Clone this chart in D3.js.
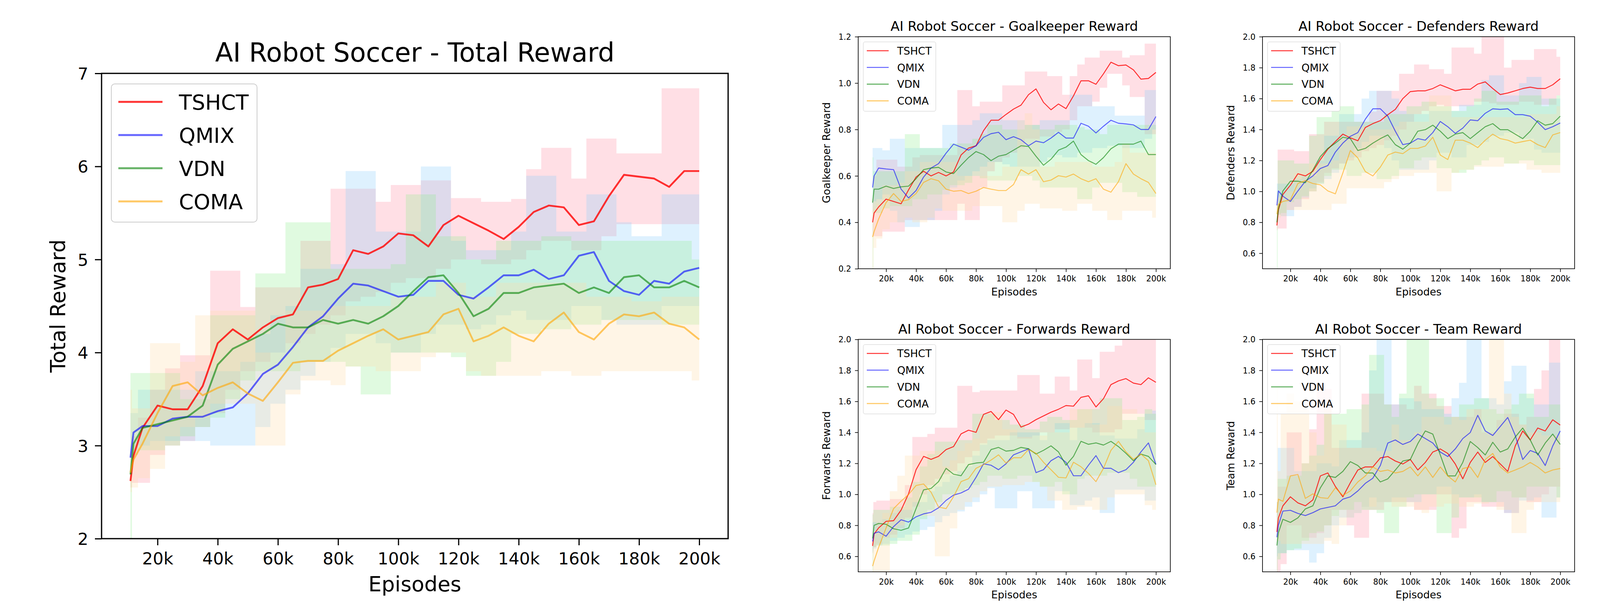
<!DOCTYPE html>
<html>
<head>
<meta charset="utf-8">
<script src="https://cdn.jsdelivr.net/npm/d3@7"></script>
<style>
  body { margin: 0; background: #fff; }
  text { font-family: "DejaVu Sans", sans-serif; fill: #000; }
</style>
</head>
<body>
<svg id="chart" width="4134" height="1550"></svg>
<script>
// episodes, in thousands
var episodes = [11, 12, 15, 20, 25, 30, 35, 40, 45, 50,
                55, 60, 65, 70, 75, 80, 85, 90, 95, 100,
                105, 110, 115, 120, 125, 130, 135, 140, 145, 150,
                155, 160, 165, 170, 175, 180, 185, 190, 195, 200];
var methods = ['TSHCT', 'QMIX', 'VDN', 'COMA'];
var xTicks = [20, 40, 60, 80, 100, 120, 140, 160, 180, 200];
var totalTicks = [2, 3, 4, 5, 6, 7];
var goalTicks = [0.2, 0.4, 0.6, 0.8, 1.0, 1.2];
var rewardTicks = [0.6, 0.8, 1.0, 1.2, 1.4, 1.6, 1.8, 2.0];

// ---- Total reward
var total_tshct = [2.62, 2.89, 3.19, 3.43, 3.39, 3.39, 3.64, 4.10, 4.25, 4.14,
  4.27, 4.37, 4.41, 4.70, 4.73, 4.79, 5.10, 5.06, 5.14, 5.28,
  5.26, 5.14, 5.37, 5.47, 5.39, 5.31, 5.22, 5.35, 5.51, 5.58,
  5.56, 5.37, 5.41, 5.68, 5.91, 5.89, 5.87, 5.78, 5.95, 5.95];
var total_tshct_hi = [2.8, 3.1, 3.3, 3.6, 3.83, 3.97, 3.97, 4.88, 4.88, 4.49,
  4.70, 4.70, 4.70, 5.20, 5.20, 5.76, 5.76, 5.76, 5.62, 5.80,
  5.80, 5.85, 5.85, 5.66, 5.66, 5.62, 5.62, 5.65, 5.97, 6.20,
  6.20, 5.87, 6.30, 6.30, 6.14, 6.14, 6.14, 6.84, 6.84, 6.84];
var total_tshct_lo = [2.55, 2.6, 2.6, 2.9, 3.0, 3.05, 3.2, 3.35, 3.6, 3.8,
  3.9, 4.0, 4.1, 4.2, 4.3, 4.4, 4.55, 4.6, 4.65, 4.75,
  4.8, 4.8, 4.9, 5.0, 5.0, 4.95, 4.95, 5.0, 5.1, 5.2,
  5.2, 5.1, 5.1, 5.25, 5.38, 5.38, 5.38, 5.38, 5.38, 5.38];
var total_qmix = [2.87, 3.14, 3.21, 3.21, 3.29, 3.31, 3.31, 3.37, 3.41, 3.56,
  3.77, 3.87, 4.06, 4.27, 4.39, 4.58, 4.74, 4.72, 4.66, 4.60,
  4.62, 4.77, 4.77, 4.62, 4.58, 4.70, 4.83, 4.83, 4.89, 4.79,
  4.83, 5.04, 5.08, 4.77, 4.66, 4.62, 4.77, 4.74, 4.87, 4.91];
var total_qmix_hi = [3.35, 3.35, 3.6, 3.6, 3.6, 3.6, 3.8, 3.8, 3.8, 3.9,
  4.2, 4.4, 4.5, 4.9, 4.9, 4.95, 5.95, 5.95, 5.3, 5.3,
  5.3, 6.0, 6.0, 5.2, 5.1, 5.1, 5.1, 5.3, 5.9, 5.9,
  5.3, 5.3, 5.7, 5.7, 5.4, 5.25, 5.25, 5.7, 5.7, 5.7];
var total_qmix_lo = [2.8, 2.95, 3.0, 3.05, 3.05, 3.05, 3.05, 3.0, 3.0, 3.0,
  3.2, 3.45, 3.6, 3.75, 3.9, 4.05, 4.2, 4.2, 4.1, 4.0,
  4.0, 4.2, 4.3, 4.3, 4.25, 4.3, 4.4, 4.45, 4.35, 4.35,
  4.35, 4.5, 4.5, 4.35, 4.3, 4.3, 4.3, 4.5, 4.5, 4.5];
var total_vdn = [2.69, 3.02, 3.19, 3.23, 3.27, 3.31, 3.43, 3.87, 4.04, 4.12,
  4.20, 4.31, 4.27, 4.27, 4.35, 4.31, 4.35, 4.31, 4.39, 4.50,
  4.66, 4.81, 4.83, 4.64, 4.39, 4.47, 4.64, 4.64, 4.70, 4.72,
  4.74, 4.64, 4.70, 4.64, 4.81, 4.83, 4.70, 4.70, 4.77, 4.70];
var total_vdn_hi = [3.78, 3.78, 3.78, 3.78, 3.78, 3.5, 3.5, 4.4, 4.4, 4.4,
  4.85, 4.85, 5.4, 5.4, 5.4, 4.9, 4.9, 4.9, 4.9, 4.95,
  5.7, 5.7, 5.25, 5.25, 5.0, 5.0, 5.2, 5.2, 5.2, 5.25,
  5.25, 5.2, 5.2, 5.2, 5.2, 5.2, 5.2, 5.2, 5.2, 5.0];
var total_vdn_lo = [2.0, 2.9, 2.95, 2.95, 3.0, 3.1, 3.2, 3.3, 3.5, 3.7,
  3.8, 3.8, 3.8, 3.9, 3.9, 3.9, 3.85, 3.55, 3.55, 4.0,
  4.0, 4.0, 4.0, 3.95, 3.75, 3.75, 3.9, 4.2, 4.2, 4.25,
  4.25, 4.3, 4.3, 4.35, 4.35, 4.35, 4.35, 4.3, 4.3, 4.3];
var total_coma = [2.71, 2.85, 3.02, 3.35, 3.64, 3.68, 3.54, 3.62, 3.68, 3.56,
  3.48, 3.68, 3.89, 3.91, 3.91, 4.02, 4.10, 4.18, 4.25, 4.14,
  4.18, 4.22, 4.41, 4.47, 4.12, 4.18, 4.27, 4.18, 4.12, 4.31,
  4.43, 4.22, 4.14, 4.31, 4.41, 4.39, 4.43, 4.31, 4.27, 4.14];
var total_coma_hi = [3.6, 3.4, 3.4, 4.1, 4.1, 3.9, 4.4, 4.45, 4.45, 4.45,
  4.0, 4.0, 4.45, 4.45, 4.45, 4.5, 4.5, 4.5, 4.5, 4.6,
  4.6, 4.6, 4.75, 4.75, 4.6, 4.6, 4.75, 4.75, 4.75, 4.75,
  4.75, 4.75, 4.6, 4.6, 4.6, 4.55, 4.55, 4.6, 4.6, 4.6];
var total_coma_lo = [2.5, 2.55, 2.65, 2.75, 3.1, 3.2, 3.3, 3.45, 3.45, 3.45,
  3.0, 3.0, 3.55, 3.7, 3.7, 3.65, 3.85, 3.85, 3.8, 3.8,
  3.8, 3.95, 4.0, 4.0, 3.8, 3.75, 3.75, 3.75, 3.75, 3.8,
  3.8, 3.75, 3.75, 3.8, 3.8, 3.8, 3.8, 3.8, 3.8, 3.7];

// ---- Goalkeeper reward
var goal_tshct = [0.40, 0.44, 0.466, 0.50, 0.49, 0.48, 0.54, 0.595, 0.62, 0.60,
  0.615, 0.60, 0.617, 0.69, 0.72, 0.73, 0.795, 0.84, 0.84, 0.865,
  0.888, 0.905, 0.95, 0.975, 0.917, 0.885, 0.91, 0.89, 0.945, 1.01,
  1.01, 0.995, 1.04, 1.09, 1.075, 1.078, 1.057, 1.017, 1.02, 1.046];
var goal_tshct_hi = [0.50, 0.60, 0.67, 0.67, 0.67, 0.64, 0.64, 0.68, 0.69, 0.69,
  0.69, 0.69, 0.69, 0.97, 0.97, 0.90, 0.92, 0.92, 0.92, 0.99,
  0.99, 0.99, 1.05, 1.05, 1.05, 1.03, 1.03, 0.95, 1.03, 1.08,
  1.11, 1.11, 1.14, 1.14, 1.14, 1.11, 1.12, 1.12, 1.17, 1.17];
var goal_tshct_lo = [0.34, 0.34, 0.34, 0.36, 0.36, 0.36, 0.41, 0.41, 0.41, 0.41,
  0.41, 0.41, 0.41, 0.48, 0.41, 0.41, 0.55, 0.62, 0.66, 0.68,
  0.70, 0.72, 0.76, 0.76, 0.77, 0.77, 0.79, 0.80, 0.84, 0.90,
  0.90, 0.92, 0.98, 1.04, 1.04, 0.99, 0.94, 0.94, 0.78, 0.78];
var goal_qmix = [0.55, 0.60, 0.634, 0.63, 0.627, 0.543, 0.505, 0.537, 0.595, 0.634,
  0.653, 0.698, 0.737, 0.724, 0.711, 0.73, 0.766, 0.782, 0.788, 0.756,
  0.769, 0.756, 0.73, 0.75, 0.743, 0.763, 0.788, 0.763, 0.763, 0.827,
  0.814, 0.785, 0.814, 0.84, 0.827, 0.824, 0.82, 0.80, 0.80, 0.856];
var goal_qmix_hi = [0.72, 0.72, 0.72, 0.71, 0.76, 0.76, 0.72, 0.72, 0.72, 0.72,
  0.72, 0.82, 0.82, 0.82, 0.82, 0.84, 0.87, 0.87, 0.87, 0.84,
  0.84, 0.84, 0.82, 0.82, 0.84, 0.84, 0.84, 0.84, 0.95, 0.95,
  0.95, 0.90, 0.90, 0.90, 0.86, 0.86, 0.86, 0.86, 0.97, 0.97];
var goal_qmix_lo = [0.48, 0.49, 0.50, 0.52, 0.45, 0.40, 0.38, 0.38, 0.41, 0.41,
  0.45, 0.52, 0.55, 0.58, 0.60, 0.62, 0.64, 0.66, 0.66, 0.65,
  0.64, 0.64, 0.64, 0.64, 0.66, 0.68, 0.69, 0.68, 0.68, 0.70,
  0.70, 0.72, 0.72, 0.73, 0.73, 0.72, 0.72, 0.72, 0.76, 0.80];
var goal_vdn = [0.485, 0.543, 0.543, 0.556, 0.546, 0.553, 0.556, 0.588, 0.627, 0.634,
  0.637, 0.617, 0.61, 0.646, 0.679, 0.705, 0.692, 0.666, 0.685, 0.692,
  0.711, 0.73, 0.727, 0.685, 0.646, 0.672, 0.711, 0.724, 0.75, 0.692,
  0.666, 0.65, 0.679, 0.717, 0.737, 0.737, 0.737, 0.75, 0.692, 0.692];
var goal_vdn_hi = [0.68, 0.62, 0.62, 0.62, 0.62, 0.62, 0.78, 0.78, 0.72, 0.72,
  0.72, 0.72, 0.74, 0.74, 0.74, 0.76, 0.78, 0.82, 0.82, 0.80,
  0.80, 0.80, 0.82, 0.82, 0.80, 0.80, 0.82, 0.82, 0.82, 0.81,
  0.80, 0.80, 0.78, 0.82, 0.82, 0.82, 0.82, 0.82, 0.82, 0.82];
var goal_vdn_lo = [0.20, 0.44, 0.44, 0.46, 0.47, 0.47, 0.47, 0.50, 0.50, 0.52,
  0.52, 0.54, 0.56, 0.56, 0.57, 0.60, 0.59, 0.58, 0.58, 0.58,
  0.58, 0.60, 0.60, 0.58, 0.55, 0.55, 0.55, 0.55, 0.55, 0.50,
  0.50, 0.55, 0.57, 0.57, 0.57, 0.53, 0.53, 0.51, 0.51, 0.51];
var goal_coma = [0.337, 0.36, 0.414, 0.485, 0.524, 0.49, 0.498, 0.524, 0.572, 0.588,
  0.579, 0.543, 0.534, 0.537, 0.524, 0.534, 0.55, 0.543, 0.537, 0.537,
  0.563, 0.627, 0.608, 0.627, 0.575, 0.582, 0.601, 0.595, 0.608, 0.588,
  0.575, 0.588, 0.543, 0.53, 0.575, 0.653, 0.608, 0.588, 0.572, 0.524];
var goal_coma_hi = [0.45, 0.46, 0.48, 0.56, 0.56, 0.57, 0.62, 0.62, 0.66, 0.66,
  0.66, 0.66, 0.66, 0.60, 0.60, 0.60, 0.60, 0.60, 0.60, 0.64,
  0.64, 0.84, 0.87, 0.80, 0.64, 0.64, 0.66, 0.66, 0.66, 0.66,
  0.66, 0.64, 0.64, 0.64, 0.66, 0.74, 0.70, 0.70, 0.70, 0.70];
var goal_coma_lo = [0.20, 0.29, 0.33, 0.37, 0.40, 0.40, 0.42, 0.40, 0.40, 0.42,
  0.46, 0.45, 0.45, 0.45, 0.45, 0.47, 0.47, 0.47, 0.47, 0.40,
  0.40, 0.45, 0.48, 0.48, 0.46, 0.46, 0.46, 0.45, 0.45, 0.48,
  0.48, 0.45, 0.45, 0.41, 0.41, 0.45, 0.45, 0.45, 0.45, 0.42];

// ---- Defenders reward
var def_tshct = [0.78, 0.88, 0.98, 1.04, 1.114, 1.10, 1.13, 1.206, 1.273, 1.322,
  1.37, 1.346, 1.327, 1.413, 1.438, 1.457, 1.496, 1.53, 1.60, 1.645,
  1.65, 1.65, 1.665, 1.689, 1.67, 1.65, 1.66, 1.66, 1.694, 1.708,
  1.665, 1.626, 1.636, 1.65, 1.665, 1.674, 1.665, 1.665, 1.689, 1.728];
var def_tshct_hi = [0.95, 1.27, 1.27, 1.27, 1.26, 1.26, 1.37, 1.37, 1.45, 1.45,
  1.45, 1.45, 1.45, 1.45, 1.515, 1.65, 1.65, 1.65, 1.76, 1.76,
  1.82, 1.82, 1.79, 1.79, 1.76, 1.93, 1.93, 1.93, 1.89, 2.05,
  2.05, 2.05, 1.80, 1.85, 1.85, 1.85, 1.92, 1.92, 1.92, 1.87];
var def_tshct_lo = [0.75, 0.76, 0.76, 0.88, 0.90, 0.95, 1.00, 1.06, 1.12, 1.15,
  1.18, 1.20, 1.22, 1.26, 1.28, 1.30, 1.33, 1.36, 1.40, 1.45,
  1.50, 1.52, 1.55, 1.56, 1.55, 1.55, 1.55, 1.55, 1.58, 1.58,
  1.57, 1.56, 1.56, 1.56, 1.58, 1.58, 1.56, 1.56, 1.56, 1.62];
var def_qmix = [0.91, 1.003, 0.969, 0.935, 1.003, 1.066, 1.10, 1.148, 1.167, 1.254,
  1.312, 1.356, 1.38, 1.467, 1.534, 1.534, 1.486, 1.389, 1.302, 1.312,
  1.341, 1.331, 1.38, 1.452, 1.418, 1.375, 1.409, 1.462, 1.457, 1.505,
  1.534, 1.53, 1.534, 1.496, 1.496, 1.486, 1.447, 1.399, 1.418, 1.442];
var def_qmix_hi = [1.05, 1.05, 1.05, 1.05, 1.08, 1.10, 1.10, 1.20, 1.36, 1.36,
  1.50, 1.50, 1.50, 1.60, 1.65, 1.65, 1.65, 1.60, 1.52, 1.50,
  1.50, 1.50, 1.52, 1.52, 1.52, 1.52, 1.56, 1.56, 1.56, 1.72,
  1.75, 1.75, 1.62, 1.62, 1.70, 1.74, 1.74, 1.60, 1.60, 1.60];
var def_qmix_lo = [0.85, 0.85, 0.84, 0.84, 0.90, 0.96, 1.02, 1.05, 1.08, 1.12,
  1.18, 1.22, 1.28, 1.32, 1.36, 1.36, 1.28, 1.20, 1.14, 1.14,
  1.14, 1.14, 1.20, 1.25, 1.25, 1.22, 1.22, 1.30, 1.30, 1.32,
  1.36, 1.36, 1.38, 1.38, 1.34, 1.34, 1.27, 1.25, 1.25, 1.25];
var def_vdn = [0.80, 0.887, 1.003, 1.066, 1.066, 1.056, 1.138, 1.225, 1.278, 1.312,
  1.35, 1.341, 1.264, 1.278, 1.312, 1.341, 1.365, 1.302, 1.273, 1.312,
  1.389, 1.399, 1.428, 1.389, 1.341, 1.37, 1.38, 1.341, 1.38, 1.418,
  1.438, 1.399, 1.399, 1.37, 1.341, 1.389, 1.457, 1.428, 1.438, 1.486];
var def_vdn_hi = [1.00, 1.20, 1.20, 1.20, 1.18, 1.18, 1.36, 1.48, 1.48, 1.52,
  1.55, 1.55, 1.45, 1.45, 1.45, 1.45, 1.50, 1.50, 1.50, 1.55,
  1.55, 1.58, 1.58, 1.55, 1.55, 1.52, 1.52, 1.55, 1.60, 1.65,
  1.65, 1.58, 1.58, 1.58, 1.62, 1.62, 1.62, 1.55, 1.60, 1.62];
var def_vdn_lo = [0.50, 0.85, 0.86, 0.93, 0.95, 0.97, 1.00, 1.05, 1.10, 1.14,
  1.14, 1.10, 1.10, 1.12, 1.12, 1.08, 1.08, 1.10, 1.15, 1.15,
  1.20, 1.22, 1.22, 1.15, 1.15, 1.12, 1.12, 1.14, 1.17, 1.20,
  1.22, 1.22, 1.18, 1.18, 1.20, 1.20, 1.17, 1.17, 1.17, 1.17];
var def_coma = [0.853, 0.916, 0.935, 0.945, 1.051, 1.07, 1.051, 1.042, 1.003, 0.984,
  1.119, 1.264, 1.216, 1.128, 1.10, 1.157, 1.235, 1.254, 1.244, 1.278,
  1.278, 1.293, 1.35, 1.235, 1.206, 1.331, 1.331, 1.312, 1.283, 1.331,
  1.37, 1.341, 1.331, 1.312, 1.322, 1.331, 1.302, 1.283, 1.365, 1.38];
var def_coma_hi = [0.95, 0.96, 0.97, 1.00, 1.12, 1.12, 1.18, 1.18, 1.18, 1.20,
  1.35, 1.42, 1.42, 1.42, 1.40, 1.40, 1.40, 1.42, 1.45, 1.45,
  1.45, 1.45, 1.62, 1.62, 1.62, 1.48, 1.48, 1.48, 1.48, 1.48,
  1.48, 1.48, 1.48, 1.48, 1.48, 1.50, 1.50, 1.50, 1.50, 1.55];
var def_coma_lo = [0.82, 0.83, 0.84, 0.88, 0.88, 0.88, 0.88, 0.88, 0.88, 0.92,
  0.92, 1.02, 1.02, 1.02, 1.02, 1.02, 1.06, 1.08, 1.10, 1.10,
  1.12, 1.12, 1.12, 1.00, 1.00, 1.12, 1.14, 1.14, 1.16, 1.16,
  1.16, 1.16, 1.18, 1.18, 1.18, 1.14, 1.14, 1.12, 1.12, 1.12];

// ---- Forwards reward
var fwd_tshct = [0.667, 0.744, 0.783, 0.826, 0.83, 0.898, 1.004, 1.159, 1.245, 1.226,
  1.245, 1.289, 1.308, 1.39, 1.414, 1.40, 1.516, 1.535, 1.482, 1.544,
  1.516, 1.434, 1.453, 1.482, 1.506, 1.53, 1.549, 1.573, 1.569, 1.626,
  1.636, 1.564, 1.617, 1.708, 1.732, 1.747, 1.718, 1.708, 1.752, 1.723];
var fwd_tshct_hi = [0.88, 0.95, 0.96, 0.96, 0.97, 0.97, 1.06, 1.37, 1.37, 1.39,
  1.43, 1.43, 1.43, 1.70, 1.70, 1.66, 1.67, 1.67, 1.67, 1.67,
  1.67, 1.77, 1.77, 1.77, 1.65, 1.65, 1.76, 1.76, 1.67, 1.87,
  1.87, 1.75, 1.92, 1.92, 1.96, 2.05, 2.05, 2.05, 2.05, 2.05];
var fwd_tshct_lo = [0.62, 0.66, 0.68, 0.72, 0.74, 0.78, 0.85, 0.92, 1.00, 1.06,
  1.10, 1.13, 1.15, 1.20, 1.24, 1.28, 1.33, 1.36, 1.38, 1.38,
  1.38, 1.36, 1.36, 1.38, 1.40, 1.40, 1.42, 1.42, 1.43, 1.43,
  1.43, 1.40, 1.40, 1.40, 1.42, 1.52, 1.52, 1.52, 1.48, 1.48];
var fwd_qmix = [0.696, 0.749, 0.758, 0.73, 0.792, 0.836, 0.821, 0.855, 0.874, 0.884,
  0.913, 0.961, 0.995, 1.009, 1.033, 1.11, 1.197, 1.188, 1.159, 1.197,
  1.255, 1.274, 1.294, 1.14, 1.159, 1.217, 1.245, 1.207, 1.12, 1.12,
  1.188, 1.25, 1.168, 1.168, 1.14, 1.159, 1.207, 1.274, 1.332, 1.193];
var fwd_qmix_hi = [0.82, 0.82, 0.82, 0.84, 0.88, 0.90, 0.90, 0.95, 0.95, 1.02,
  1.05, 1.08, 1.12, 1.15, 1.18, 1.25, 1.32, 1.35, 1.35, 1.35,
  1.40, 1.40, 1.40, 1.40, 1.35, 1.40, 1.46, 1.46, 1.35, 1.43,
  1.46, 1.46, 1.38, 1.38, 1.36, 1.36, 1.36, 1.42, 1.52, 1.54];
var fwd_qmix_lo = [0.63, 0.65, 0.67, 0.68, 0.70, 0.72, 0.74, 0.76, 0.77, 0.79,
  0.82, 0.86, 0.88, 0.89, 0.92, 0.95, 1.00, 1.04, 0.91, 0.91,
  0.91, 1.02, 1.02, 0.91, 0.91, 0.91, 1.02, 1.02, 0.93, 0.93,
  0.96, 0.98, 0.88, 0.88, 1.03, 1.03, 1.03, 1.03, 0.96, 0.96];
var fwd_vdn = [0.715, 0.80, 0.812, 0.807, 0.778, 0.768, 0.783, 0.908, 1.029, 1.038,
  1.082, 1.168, 1.13, 1.12, 1.192, 1.202, 1.207, 1.289, 1.303, 1.279,
  1.284, 1.303, 1.294, 1.26, 1.284, 1.313, 1.274, 1.188, 1.245, 1.342,
  1.323, 1.332, 1.318, 1.342, 1.308, 1.265, 1.217, 1.26, 1.245, 1.193];
var fwd_vdn_hi = [0.87, 0.90, 0.90, 0.90, 0.92, 0.92, 0.98, 1.08, 1.18, 1.26,
  1.34, 1.34, 1.34, 1.35, 1.35, 1.52, 1.52, 1.52, 1.48, 1.48,
  1.45, 1.45, 1.42, 1.42, 1.47, 1.50, 1.50, 1.48, 1.48, 1.55,
  1.55, 1.55, 1.62, 1.62, 1.62, 1.48, 1.48, 1.50, 1.55, 1.52];
var fwd_vdn_lo = [0.50, 0.66, 0.67, 0.67, 0.68, 0.70, 0.70, 0.74, 0.84, 0.90,
  0.95, 1.00, 1.00, 1.02, 1.04, 1.06, 1.08, 1.12, 1.12, 1.10,
  1.10, 1.12, 1.12, 1.08, 1.05, 1.05, 1.08, 1.00, 1.00, 1.10,
  1.12, 1.12, 1.12, 1.14, 1.14, 1.14, 1.10, 1.05, 1.05, 1.05];
var fwd_coma = [0.537, 0.57, 0.657, 0.783, 0.908, 0.956, 0.999, 1.057, 1.067, 1.014,
  0.918, 0.908, 0.985, 1.082, 1.101, 1.168, 1.192, 1.221, 1.255, 1.202,
  1.236, 1.236, 1.289, 1.265, 1.207, 1.159, 1.11, 1.106, 1.207, 1.178,
  1.135, 1.082, 1.168, 1.284, 1.342, 1.274, 1.226, 1.26, 1.217, 1.062];
var fwd_coma_hi = [0.72, 0.76, 0.82, 0.88, 1.02, 1.12, 1.25, 1.25, 1.28, 1.28,
  1.28, 1.18, 1.22, 1.28, 1.33, 1.36, 1.50, 1.53, 1.53, 1.42,
  1.42, 1.37, 1.37, 1.38, 1.38, 1.40, 1.40, 1.40, 1.55, 1.55,
  1.55, 1.45, 1.45, 1.57, 1.57, 1.55, 1.55, 1.52, 1.40, 1.40];
var fwd_coma_lo = [0.45, 0.45, 0.50, 0.50, 0.72, 0.80, 0.84, 0.86, 0.86, 0.86,
  0.60, 0.60, 0.78, 0.90, 0.95, 0.98, 1.02, 1.05, 1.05, 1.06,
  1.06, 1.06, 1.08, 1.08, 1.05, 0.96, 0.96, 0.90, 0.90, 0.92,
  0.92, 0.90, 0.90, 0.98, 1.00, 1.00, 1.00, 1.00, 0.93, 0.90];

// ---- Team reward
var team_tshct = [0.757, 0.848, 0.926, 0.984, 0.945, 0.926, 0.964, 1.119, 1.138, 1.051,
  0.984, 1.075, 1.157, 1.177, 1.177, 1.235, 1.244, 1.215, 1.196, 1.225,
  1.157, 1.206, 1.273, 1.293, 1.264, 1.196, 1.10, 1.206, 1.273, 1.206,
  1.244, 1.196, 1.148, 1.312, 1.409, 1.351, 1.428, 1.409, 1.481, 1.447];
var team_tshct_hi = [0.95, 1.05, 1.05, 1.40, 1.40, 1.20, 1.42, 1.68, 1.68, 1.30,
  1.30, 1.30, 1.30, 1.65, 1.65, 1.65, 1.58, 1.58, 1.58, 1.55,
  1.70, 1.65, 1.65, 1.57, 1.57, 1.50, 1.50, 1.50, 1.55, 1.40,
  1.40, 1.48, 1.52, 1.52, 1.45, 1.50, 1.68, 1.80, 2.05, 2.05];
var team_tshct_lo = [0.50, 0.50, 0.55, 0.80, 0.80, 0.72, 0.72, 0.75, 0.80, 0.90,
  0.90, 0.80, 0.72, 0.72, 0.90, 0.90, 0.95, 0.95, 0.95, 0.95,
  0.90, 0.90, 0.90, 1.00, 1.00, 0.72, 0.78, 0.95, 0.95, 0.92,
  0.92, 0.92, 0.88, 0.88, 0.98, 0.95, 0.95, 1.00, 1.05, 1.05];
var team_qmix = [0.723, 0.80, 0.892, 0.897, 0.877, 0.863, 0.882, 0.906, 0.916, 0.926,
  0.969, 0.984, 1.022, 1.071, 1.104, 1.186, 1.331, 1.351, 1.322, 1.341,
  1.389, 1.36, 1.331, 1.273, 1.244, 1.293, 1.36, 1.399, 1.51, 1.409,
  1.38, 1.438, 1.496, 1.38, 1.225, 1.283, 1.264, 1.186, 1.312, 1.409];
var team_qmix_hi = [0.95, 1.30, 1.30, 1.30, 1.15, 1.15, 1.15, 1.20, 1.20, 1.18,
  1.35, 1.35, 1.35, 1.40, 1.80, 2.05, 2.05, 1.58, 1.62, 1.62,
  1.60, 1.55, 1.55, 1.55, 1.52, 1.62, 1.72, 2.05, 2.05, 1.62,
  1.62, 1.58, 1.73, 1.83, 1.83, 1.62, 1.58, 1.58, 1.85, 1.85];
var team_qmix_lo = [0.60, 0.62, 0.62, 0.64, 0.64, 0.64, 0.56, 0.62, 0.72, 0.80,
  0.85, 0.85, 0.88, 0.92, 0.98, 0.95, 0.95, 0.98, 0.98, 0.95,
  0.95, 1.00, 1.00, 1.05, 1.05, 1.00, 0.98, 0.98, 1.00, 0.95,
  0.95, 0.95, 0.88, 0.88, 0.96, 0.96, 0.98, 0.85, 0.85, 0.98];
var team_vdn = [0.67, 0.752, 0.839, 0.819, 0.848, 0.906, 0.926, 1.042, 1.119, 1.109,
  1.148, 1.211, 1.186, 1.138, 1.138, 1.08, 1.10, 1.157, 1.215, 1.225,
  1.327, 1.409, 1.389, 1.254, 1.119, 1.119, 1.206, 1.341, 1.302, 1.254,
  1.336, 1.273, 1.293, 1.37, 1.428, 1.351, 1.254, 1.331, 1.389, 1.322];
var team_vdn_hi = [0.95, 1.10, 1.10, 1.12, 1.12, 1.20, 1.25, 1.32, 1.52, 1.52,
  1.52, 1.55, 1.55, 1.58, 1.90, 1.90, 1.58, 1.50, 1.65, 2.05,
  2.05, 2.05, 1.62, 1.62, 1.50, 1.50, 1.58, 1.58, 1.62, 1.62,
  1.55, 1.52, 1.55, 1.58, 1.65, 1.65, 1.50, 1.50, 1.58, 1.58];
var team_vdn_lo = [0.50, 0.58, 0.62, 0.64, 0.65, 0.70, 0.75, 0.76, 0.80, 0.86,
  0.90, 0.90, 0.95, 0.90, 0.90, 0.88, 0.75, 0.75, 0.92, 0.98,
  1.00, 1.00, 1.00, 0.75, 0.75, 0.85, 0.98, 0.98, 0.98, 0.95,
  0.95, 1.02, 1.02, 0.98, 0.98, 1.05, 1.05, 1.05, 1.05, 0.98];
var team_coma = [0.882, 0.969, 0.955, 1.119, 1.128, 0.974, 1.003, 0.979, 0.974, 1.042,
  0.993, 1.022, 1.08, 1.119, 1.177, 1.148, 1.157, 1.138, 1.148, 1.177,
  1.119, 1.177, 1.109, 1.177, 1.119, 1.08, 1.167, 1.177, 1.109, 1.225,
  1.264, 1.177, 1.138, 1.157, 1.177, 1.206, 1.177, 1.138, 1.157, 1.167];
var team_coma_hi = [1.70, 1.15, 1.52, 1.65, 1.60, 1.60, 1.40, 1.25, 1.55, 1.45,
  1.45, 1.30, 1.30, 1.30, 1.30, 1.28, 1.28, 1.45, 1.35, 1.35,
  1.40, 1.50, 1.50, 1.50, 1.45, 1.50, 1.48, 1.55, 1.55, 1.55,
  2.05, 2.05, 1.65, 1.50, 1.45, 1.40, 1.40, 1.38, 1.38, 1.38];
var team_coma_lo = [0.70, 0.70, 0.68, 0.68, 0.68, 0.68, 0.68, 0.68, 0.70, 0.68,
  0.80, 0.85, 0.88, 0.92, 0.92, 0.95, 0.95, 0.92, 0.92, 0.92,
  0.90, 0.88, 0.92, 0.92, 0.94, 0.94, 0.92, 0.92, 0.94, 0.94,
  0.95, 0.90, 0.90, 0.75, 0.75, 0.90, 0.95, 0.95, 0.95, 0.95];

// colours: mean line (colour + opacity) and band fill (colour + opacity)
var lineColors = ['red', 'blue', 'green', 'orange'];
var lineAlpha = [0.8, 0.6, 0.6, 0.6];
var bandColors = ['pink', 'lightskyblue', 'lightgreen', 'navajowhite'];
var bandAlpha = [0.5, 0.28, 0.28, 0.3];

var bigStyle = {
  title: 67, label: 53.5, tick: 43, legend: 54, line: 4.6, frame: 3.2,
  tickLen: 17, tickW: 3, yPad: 17, xPad: 18, titlePad: 30, xLabelOff: 135, yLabelOff: 93,
  lg: {dx: 25, dy: 27, w: 373, h: 354, row0: 73, rowStep: 85, h0: 43, h1: 156, tx: 198, r: 9, bw: 2}
};
var smallStyle = {
  title: 34, label: 26.5, tick: 20.5, legend: 26.7, line: 2.4, frame: 1.7,
  tickLen: 8.3, tickW: 1.6, yPad: 9.7, xPad: 9.7, titlePad: 15, xLabelOff: 68, yLabelOff: 72,
  lg: {dx: 13, dy: 13.3, w: 185.7, h: 177.7, row0: 36, rowStep: 42.8, h0: 22, h1: 78, tx: 99.7, r: 4.5, bw: 1}
};

var panels = [
  {id: 'total', title: 'AI Robot Soccer - Total Reward', ylabel: 'Total Reward',
   x0: 260, x1: 1864, y0: 188, y1: 1380, ylim: [2, 7], ticks: totalTicks, fmt: d3.format('d'), st: bigStyle,
   mean: [total_tshct, total_qmix, total_vdn, total_coma],
   hi: [total_tshct_hi, total_qmix_hi, total_vdn_hi, total_coma_hi],
   lo: [total_tshct_lo, total_qmix_lo, total_vdn_lo, total_coma_lo]},
  {id: 'goal', title: 'AI Robot Soccer - Goalkeeper Reward', ylabel: 'Goalkeeper Reward',
   x0: 2197, x1: 2996, y0: 94, y1: 688.5, ylim: [0.2, 1.2], ticks: goalTicks, fmt: d3.format('.1f'), st: smallStyle,
   mean: [goal_tshct, goal_qmix, goal_vdn, goal_coma],
   hi: [goal_tshct_hi, goal_qmix_hi, goal_vdn_hi, goal_coma_hi],
   lo: [goal_tshct_lo, goal_qmix_lo, goal_vdn_lo, goal_coma_lo]},
  {id: 'def', title: 'AI Robot Soccer - Defenders Reward', ylabel: 'Defenders Reward',
   x0: 3232, x1: 4031, y0: 94, y1: 688.5, ylim: [0.5, 2.0], ticks: rewardTicks, fmt: d3.format('.1f'), st: smallStyle,
   mean: [def_tshct, def_qmix, def_vdn, def_coma],
   hi: [def_tshct_hi, def_qmix_hi, def_vdn_hi, def_coma_hi],
   lo: [def_tshct_lo, def_qmix_lo, def_vdn_lo, def_coma_lo]},
  {id: 'fwd', title: 'AI Robot Soccer - Forwards Reward', ylabel: 'Forwards Reward',
   x0: 2197, x1: 2996, y0: 869.5, y1: 1465, ylim: [0.5, 2.0], ticks: rewardTicks, fmt: d3.format('.1f'), st: smallStyle,
   mean: [fwd_tshct, fwd_qmix, fwd_vdn, fwd_coma],
   hi: [fwd_tshct_hi, fwd_qmix_hi, fwd_vdn_hi, fwd_coma_hi],
   lo: [fwd_tshct_lo, fwd_qmix_lo, fwd_vdn_lo, fwd_coma_lo]},
  {id: 'team', title: 'AI Robot Soccer - Team Reward', ylabel: 'Team Reward',
   x0: 3232, x1: 4031, y0: 869.5, y1: 1465, ylim: [0.5, 2.0], ticks: rewardTicks, fmt: d3.format('.1f'), st: smallStyle,
   mean: [team_tshct, team_qmix, team_vdn, team_coma],
   hi: [team_tshct_hi, team_qmix_hi, team_vdn_hi, team_coma_hi],
   lo: [team_tshct_lo, team_qmix_lo, team_vdn_lo, team_coma_lo]}
];

var svg = d3.select('#chart');
svg.append('rect').attr('width', 4134).attr('height', 1550).attr('fill', '#fff');
var defs = svg.append('defs');

panels.forEach(function(p) {
  var st = p.st;
  var x = d3.scaleLinear().domain([1.4, 209.6]).range([p.x0, p.x1]);
  var y = d3.scaleLinear().domain(p.ylim).range([p.y1, p.y0]);

  defs.append('clipPath').attr('id', 'clip-' + p.id)
    .append('rect')
    .attr('x', p.x0).attr('y', p.y0)
    .attr('width', p.x1 - p.x0).attr('height', p.y1 - p.y0);

  var g = svg.append('g');
  var plot = g.append('g').attr('clip-path', 'url(#clip-' + p.id + ')');

  // shaded min/max bands
  methods.forEach(function(m, i) {
    var rows = episodes.map(function(e, k) {
      return {e: e, lo: p.lo[i][k], hi: p.hi[i][k]};
    });
    var area = d3.area()
      .curve(d3.curveStep)
      .x(function(d) { return x(d.e); })
      .y0(function(d) { return y(d.lo); })
      .y1(function(d) { return y(d.hi); });
    plot.append('path')
      .datum(rows)
      .attr('d', area)
      .attr('fill', bandColors[i])
      .attr('fill-opacity', bandAlpha[i]);
  });

  // mean curves
  methods.forEach(function(m, i) {
    var rows = episodes.map(function(e, k) { return {e: e, v: p.mean[i][k]}; });
    var line = d3.line()
      .x(function(d) { return x(d.e); })
      .y(function(d) { return y(d.v); });
    plot.append('path')
      .datum(rows)
      .attr('d', line)
      .attr('fill', 'none')
      .attr('stroke', lineColors[i])
      .attr('stroke-opacity', lineAlpha[i])
      .attr('stroke-width', st.line)
      .attr('stroke-linejoin', 'round');
  });

  // axes
  var xAxis = d3.axisBottom(x)
    .tickValues(xTicks)
    .tickSize(st.tickLen)
    .tickPadding(st.xPad)
    .tickFormat(function(d) { return d + 'k'; });
  var gx = g.append('g').attr('transform', 'translate(0,' + p.y1 + ')').call(xAxis);

  var yAxis = d3.axisLeft(y)
    .tickValues(p.ticks)
    .tickSize(st.tickLen)
    .tickPadding(st.yPad)
    .tickFormat(p.fmt);
  var gy = g.append('g').attr('transform', 'translate(' + p.x0 + ',0)').call(yAxis);
  gy.selectAll('.tick text').attr('dy', '0.36em');

  [gx, gy].forEach(function(ax) {
    ax.select('.domain').remove();
    ax.selectAll('.tick line').attr('stroke', '#000').attr('stroke-width', st.tickW);
    ax.selectAll('.tick text')
      .attr('fill', '#000')
      .style('font-family', '"DejaVu Sans", sans-serif')
      .style('font-size', st.tick + 'px');
  });

  // frame
  g.append('rect')
    .attr('x', p.x0).attr('y', p.y0)
    .attr('width', p.x1 - p.x0).attr('height', p.y1 - p.y0)
    .attr('fill', 'none')
    .attr('stroke', '#000')
    .attr('stroke-width', st.frame);

  // title and axis labels
  var cx = (p.x0 + p.x1) / 2;
  g.append('text')
    .attr('x', cx).attr('y', p.y0 - st.titlePad)
    .attr('text-anchor', 'middle')
    .style('font-size', st.title + 'px')
    .text(p.title);
  g.append('text')
    .attr('x', cx).attr('y', p.y1 + st.xLabelOff)
    .attr('text-anchor', 'middle')
    .style('font-size', st.label + 'px')
    .text('Episodes');
  var ly = (p.y0 + p.y1) / 2, lx = p.x0 - st.yLabelOff;
  g.append('text')
    .attr('transform', 'translate(' + lx + ',' + ly + ') rotate(-90)')
    .attr('text-anchor', 'middle')
    .style('font-size', st.label + 'px')
    .text(p.ylabel);

  // legend
  var lg = st.lg;
  var leg = g.append('g').attr('transform', 'translate(' + (p.x0 + lg.dx) + ',' + (p.y0 + lg.dy) + ')');
  leg.append('rect')
    .attr('width', lg.w).attr('height', lg.h)
    .attr('rx', lg.r).attr('ry', lg.r)
    .attr('fill', '#fff').attr('fill-opacity', 0.8)
    .attr('stroke', '#cccccc').attr('stroke-width', lg.bw);
  methods.forEach(function(m, i) {
    var ry = lg.row0 - lg.dy + i * lg.rowStep;
    leg.append('line')
      .attr('x1', lg.h0 - lg.dx).attr('x2', lg.h1 - lg.dx)
      .attr('y1', ry).attr('y2', ry)
      .attr('stroke', lineColors[i])
      .attr('stroke-opacity', lineAlpha[i])
      .attr('stroke-width', st.line * 1.1);
    leg.append('text')
      .attr('x', lg.tx - lg.dx)
      .attr('y', ry + st.legend * 0.3645)
      .style('font-size', st.legend + 'px')
      .text(m);
  });
});
</script>
</body>
</html>
